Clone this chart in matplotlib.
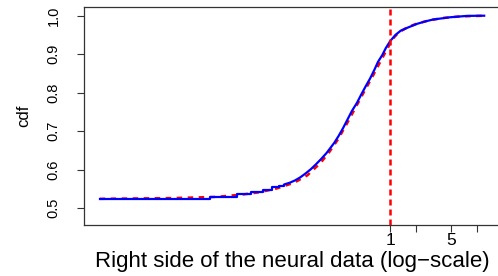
import numpy as np
import matplotlib
matplotlib.use("Agg")
import matplotlib.pyplot as plt

plt.rcParams['font.family'] = ['Liberation Sans', 'DejaVu Sans']

# Empirical CDF (blue curve), x in log10 units
emp_log10x = [-3.33, -2.06, -1.76, -1.59, -1.46, -1.35, -1.28, -1.22, -1.15, -1.09,
              -1.03, -0.97, -0.91, -0.85, -0.79, -0.73, -0.69, -0.64, -0.59, -0.54,
              -0.49, -0.44, -0.38, -0.33, -0.28, -0.23, -0.18, -0.14, -0.09, -0.05,
              0.00, 0.06, 0.12, 0.20, 0.31, 0.40, 0.49, 0.59, 0.69, 0.80, 0.88, 1.09]
emp_cdf = [0.523, 0.529, 0.536, 0.541, 0.548, 0.554, 0.557, 0.561, 0.566, 0.572,
           0.580, 0.590, 0.601, 0.614, 0.628, 0.643, 0.655, 0.670, 0.688, 0.708,
           0.730, 0.752, 0.774, 0.796, 0.817, 0.837, 0.860, 0.880, 0.898, 0.916,
           0.934, 0.950, 0.961, 0.969, 0.979, 0.985, 0.990, 0.993, 0.996, 0.998, 0.9995, 1.000]
n_visible_steps = 7  # the first points where the ECDF steps are visible

# Fitted CDF (red dashed curve)
fit_log10x = [-3.33, -2.5, -2.0, -1.7, -1.5, -1.3, -1.1, -0.95, -0.8, -0.7, -0.6, -0.5,
              -0.4, -0.3, -0.2, -0.1, 0.0, 0.05, 0.1, 0.2, 0.3, 0.45, 0.6, 0.8, 1.09]
fit_cdf = [0.524, 0.526, 0.529, 0.535, 0.541, 0.551, 0.566, 0.585, 0.617, 0.645, 0.678, 0.718,
           0.760, 0.802, 0.843, 0.886, 0.928, 0.945, 0.957, 0.970, 0.979, 0.988, 0.994, 0.998, 1.000]

threshold = 1.0
xtick_vals = [1, 2, 5, 10]
xtick_labels = ["1", "", "5", ""]
ytick_vals = [0.5, 0.6, 0.7, 0.8, 0.9, 1.0]
ytick_labels = ["0.5", "0.6", "0.7", "0.8", "0.9", "1.0"]

fig = plt.figure(figsize=(4.98, 2.76), dpi=100)
ax = fig.add_axes([84/498, 1-225/276, (501-84)/498, (225-7)/276])

ex = 10 ** np.array(emp_log10x)
fx = 10 ** np.array(fit_log10x)
ey = np.array(emp_cdf)

ax.plot(fx, fit_cdf, color='red', lw=1.8, ls=(0, (2.2, 2.2)), zorder=2)
k = n_visible_steps
ax.step(ex[:k + 1], ey[:k + 1], where='post', color='blue', lw=1.6, zorder=3)
ax.plot(ex[k:], ey[k:], color='blue', lw=1.6, zorder=3, solid_capstyle='butt')
ax.axvline(threshold, color='red', lw=1.8, ls=(0, (2.4, 1.6)), zorder=4)

ax.set_xscale('log')
ax.set_xlim(10 ** -3.51, 10 ** 1.27)
ax.set_ylim(0.456, 1.0226)
ax.set_xticks(xtick_vals)
ax.set_xticklabels(xtick_labels)
ax.minorticks_off()
ax.set_yticks(ytick_vals)
ax.set_yticklabels(ytick_labels, rotation=90, va='center')

ax.tick_params(axis='both', direction='out', length=5, width=0.8,
               color='#333333')
ax.tick_params(axis='x', labelsize=12.5, pad=1)
ax.tick_params(axis='y', labelsize=10.5, pad=12)
for s in ax.spines.values():
    s.set_color('#333333')
    s.set_linewidth(0.9)

ax.set_xlabel("Right side of the neural data (log\u2212scale)", fontsize=16, labelpad=2)
ax.set_ylabel("cdf", fontsize=12, labelpad=11)

fig.savefig("out.png", dpi=100)
